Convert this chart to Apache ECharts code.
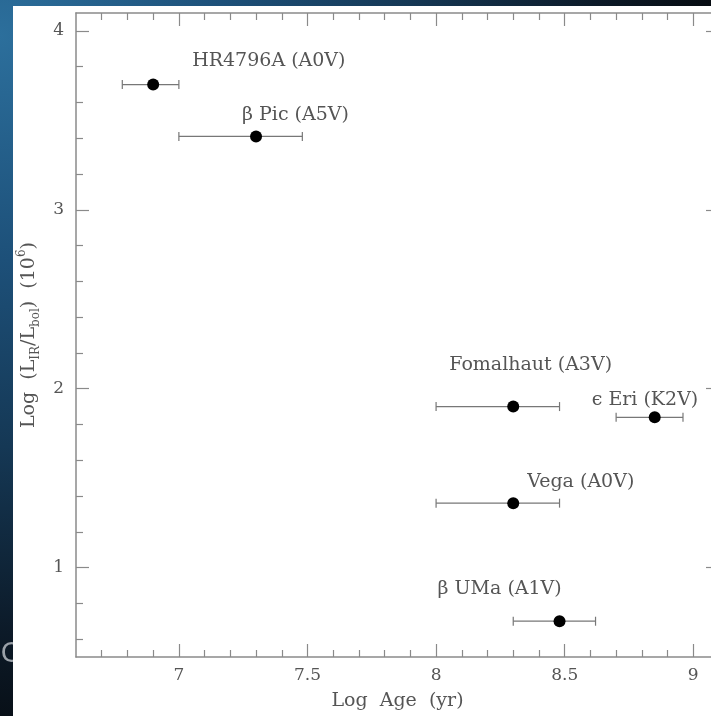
<!DOCTYPE html>
<html>
<head>
<meta charset="utf-8">
<script src="https://cdn.jsdelivr.net/npm/echarts@6/dist/echarts.min.js"></script>
<style>html,body{margin:0;padding:0;background:#0b1520;}#c{width:711px;height:716px;}</style>
</head>
<body>
<div id="c"></div>
<script>
// ---- data ----
const stars   = ['HR4796A (A0V)', 'β Pic (A5V)', 'Fomalhaut (A3V)', 'ϵ Eri (K2V)', 'Vega (A0V)', 'β UMa (A1V)'];
const logAge  = [6.90, 7.30, 8.30, 8.85, 8.30, 8.48];
const ageLow  = [6.78, 7.00, 8.00, 8.70, 8.00, 8.30];
const ageHigh = [7.00, 7.48, 8.48, 8.96, 8.48, 8.62];
const logLum  = [3.70, 3.41, 1.90, 1.84, 1.36, 0.70];
// tick values
const xMajor = [7, 7.5, 8, 8.5, 9];
const xMinor = [6.7, 6.8, 6.9, 7.1, 7.2, 7.3, 7.4, 7.6, 7.7, 7.8, 7.9, 8.1, 8.2, 8.3, 8.4, 8.6, 8.7, 8.8, 8.9];
const yMajor = [1, 2, 3, 4];
const yMinor = [0.6, 0.8, 1.2, 1.4, 1.6, 1.8, 2.2, 2.4, 2.6, 2.8, 3.2, 3.4, 3.6, 3.8];
// label placement (px offsets from the point: left edge, vertical centre)
const labelOffsets = [[39, -23], [-14, -21], [-64, -41], [-63, -17], [14, -21], [-122, -32]];

const FONT = 'DejaVu Serif';
const TXT = '#555555';
const AX = '#8a8a8a';
const XMIN = 6.6, XMAX = 9.1, YMIN = 0.5, YMAX = 4.1;

const chart = echarts.init(document.getElementById('c'), null, {renderer: 'canvas'});

function xAx(pos, vals, len, line, labels, extra) {
  return Object.assign({
    type: 'value', position: pos, min: XMIN, max: XMAX,
    axisLine: {show: line, lineStyle: {color: AX, width: 1.5}},
    axisTick: {show: true, inside: true, length: len, customValues: vals, lineStyle: {color: AX, width: 1.2}},
    axisLabel: labels ? {show: true, customValues: vals, margin: 10, fontFamily: FONT, fontSize: 17, color: TXT} : {show: false},
    splitLine: {show: false}
  }, extra || {});
}
function yAx(pos, vals, len, line, labels, extra) {
  return Object.assign({
    type: 'value', position: pos, min: YMIN, max: YMAX,
    axisLine: {show: line, lineStyle: {color: AX, width: 1.5}},
    axisTick: {show: true, inside: true, length: len, customValues: vals, lineStyle: {color: AX, width: 1.2}},
    axisLabel: labels ? {show: true, customValues: vals, margin: 12, fontFamily: FONT, fontSize: 17, color: TXT} : {show: false},
    splitLine: {show: false}
  }, extra || {});
}

const option = {
  animation: false,
  graphic: [
    {type: 'rect', z: -30, silent: true, shape: {x: 0, y: 0, width: 711, height: 716},
     style: {fill: {type: 'radial', x: 0, y: 0.05, r: 1.05, colorStops: [
       {offset: 0, color: '#2c6f9c'}, {offset: 0.3, color: '#1d5079'}, {offset: 0.55, color: '#153855'},
       {offset: 0.8, color: '#0c1a28'}, {offset: 1, color: '#05080b'}]}}},
    {type: 'text', z: -25, silent: true, left: -7, top: 642,
     style: {text: 'JC', fontFamily: 'DejaVu Sans', fontSize: 26, fill: '#9aa1a8'}},
    {type: 'rect', z: -20, silent: true, shape: {x: 13, y: 6, width: 720, height: 720}, style: {fill: '#ffffff'}}
  ],
  grid: {left: 76, top: 13, width: 643, height: 644, containLabel: false, outerBoundsMode: 'none'},
  xAxis: [
    xAx('bottom', xMajor, 13, true, true, {
      name: 'Log  Age  (yr)', nameLocation: 'middle', nameGap: 35,
      nameTextStyle: {fontFamily: FONT, fontSize: 19, color: TXT}
    }),
    xAx('bottom', xMinor, 7, false, false),
    xAx('top', xMajor, 13, true, false),
    xAx('top', xMinor, 7, false, false)
  ],
  yAxis: [
    yAx('left', yMajor, 13, true, true, {
      name: 'Log  (L{sub|IR}/L{sub|bol})  (10{sup|6})', nameLocation: 'middle', nameGap: 33,
      nameTextStyle: {fontFamily: FONT, fontSize: 19, color: TXT, lineHeight: 26,
        rich: {
          sub: {fontFamily: FONT, fontSize: 12, color: TXT, verticalAlign: 'bottom', lineHeight: 14},
          sup: {fontFamily: FONT, fontSize: 12, color: TXT, verticalAlign: 'top', lineHeight: 12}
        }}
    }),
    yAx('left', yMinor, 7, false, false),
    yAx('right', yMajor, 13, false, false),
    yAx('right', yMinor, 7, false, false)
  ],
  series: [
    {
      type: 'custom', xAxisIndex: 0, yAxisIndex: 0, z: 3,
      data: stars.map((s, i) => [ageLow[i], ageHigh[i], logLum[i], logAge[i], i]),
      renderItem: function (params, api) {
        const lo = api.coord([api.value(0), api.value(2)]);
        const hi = api.coord([api.value(1), api.value(2)]);
        const pt = api.coord([api.value(3), api.value(2)]);
        const i = api.value(4);
        const st = {stroke: '#777', lineWidth: 1.2};
        const cap = 4.5;
        return {
          type: 'group',
          children: [
            {type: 'line', shape: {x1: lo[0], y1: lo[1], x2: hi[0], y2: hi[1]}, style: st},
            {type: 'line', shape: {x1: lo[0], y1: lo[1] - cap, x2: lo[0], y2: lo[1] + cap}, style: st},
            {type: 'line', shape: {x1: hi[0], y1: hi[1] - cap, x2: hi[0], y2: hi[1] + cap}, style: st},
            {type: 'text', x: pt[0] + labelOffsets[i][0], y: pt[1] + labelOffsets[i][1],
             style: {text: stars[i], fontFamily: FONT, fontSize: 19, fill: TXT, align: 'left', verticalAlign: 'middle'}}
          ]
        };
      }
    },
    {
      type: 'scatter', xAxisIndex: 0, yAxisIndex: 0, z: 5,
      symbol: 'circle', symbolSize: 12,
      itemStyle: {color: '#000', opacity: 1},
      data: logAge.map((x, i) => [x, logLum[i]])
    }
  ]
};
chart.setOption(option);
</script>
</body>
</html>
